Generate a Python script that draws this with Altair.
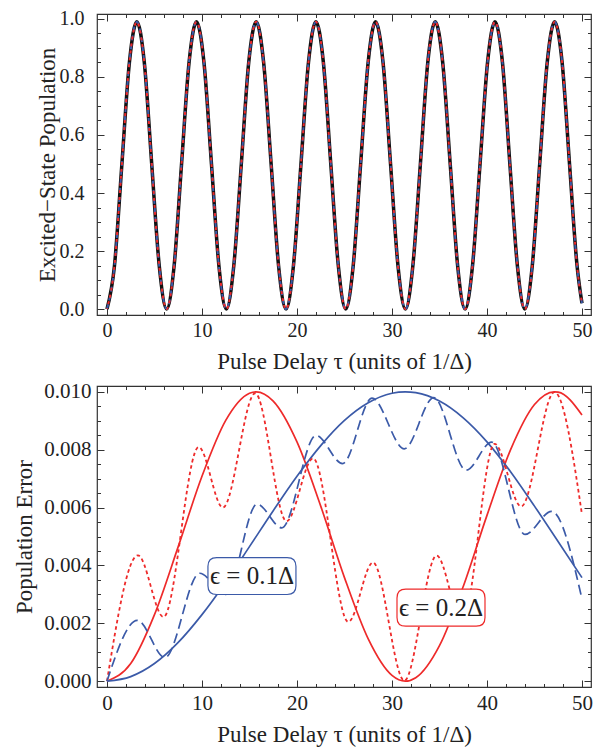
import altair as alt
import pandas as pd

# ---------------- data ----------------
# Top panel: excited-state population (exact and two approximations overlap)
tau_top = [0.00, 0.79, 1.57, 2.36, 3.14, 3.93, 4.71, 5.50, 6.28, 7.07, 7.85, 8.64,
           9.42, 10.21, 11.00, 11.78, 12.57, 13.35, 14.14, 14.92, 15.71, 16.49, 17.28,
           18.06, 18.85, 19.63, 20.42, 21.21, 21.99, 22.78, 23.56, 24.35, 25.13, 25.92,
           26.70, 27.49, 28.27, 29.06, 29.85, 30.63, 31.42, 32.20, 32.99, 33.77, 34.56,
           35.34, 36.13, 36.91, 37.70, 38.48, 39.27, 40.06, 40.84, 41.63, 42.41, 43.20,
           43.98, 44.77, 45.55, 46.34, 47.12, 47.91, 48.69, 49.48, 50.00]
pop_exact = [0.00, 0.15, 0.50, 0.85, 0.99, 0.85, 0.50, 0.15,
             0.00, 0.15, 0.50, 0.85, 0.99, 0.85, 0.50, 0.15,
             0.00, 0.15, 0.50, 0.85, 0.99, 0.85, 0.50, 0.15,
             0.00, 0.15, 0.50, 0.85, 0.99, 0.85, 0.50, 0.15,
             0.00, 0.15, 0.50, 0.85, 0.99, 0.85, 0.50, 0.15,
             0.00, 0.15, 0.50, 0.85, 0.99, 0.85, 0.50, 0.15,
             0.00, 0.15, 0.50, 0.85, 0.99, 0.85, 0.50, 0.15,
             0.00, 0.15, 0.50, 0.85, 0.99, 0.85, 0.50, 0.15,
             0.02]
pop_approx_01 = list(pop_exact)   # visually identical to the exact curve
pop_approx_02 = list(pop_exact)

# Bottom panel: population error
tau_blue_solid = [0, 2.5, 5, 7.5, 10, 12.5, 15, 17.5, 20, 22.5, 25, 27.5, 30, 31.4,
                  32.5, 35, 37.5, 40, 42.5, 45, 47.5, 50]
err_blue_solid = [0.0, 0.00016, 0.00061, 0.00134, 0.00230, 0.00342, 0.00465, 0.00589,
                  0.00708, 0.00814, 0.00901, 0.00962, 0.00995, 0.01000, 0.00997, 0.00968,
                  0.00910, 0.00827, 0.00723, 0.00605, 0.00482, 0.00358]

tau_red_solid = [0, 2.5, 5, 7.5, 10, 12.5, 15, 15.7, 17.5, 20, 22.5, 25, 27.5, 30, 31.4,
                 32.5, 35, 37.5, 40, 42.5, 45, 47.1, 47.5, 50]
err_red_solid = [0.0, 0.00061, 0.00230, 0.00465, 0.00708, 0.00901, 0.00995, 0.01000,
                 0.00968, 0.00827, 0.00605, 0.00358, 0.00146, 0.00020, 0.0, 0.00012,
                 0.00123, 0.00327, 0.00573, 0.00801, 0.00956, 0.01000, 0.00999, 0.00920]

tau_blue_dash = [0, 3.2, 6.1, 9.75, 12.5, 15.8, 18.4, 22.0, 24.8, 27.9, 31.3, 34.4,
                 37.8, 40.5, 44.0, 46.8, 50]
err_blue_dash = [0.0, 0.00210, 0.00082, 0.00373, 0.00300, 0.00612, 0.00530, 0.00849,
                 0.00752, 0.00978, 0.00803, 0.00980, 0.00729, 0.00826, 0.00507, 0.00587,
                 0.00284]

tau_red_dot = [0, 3.26, 5.95, 9.65, 12.2, 15.6, 18.9, 21.7, 25.4, 28.0, 31.3, 34.7,
               37.4, 40.8, 43.6, 47.1, 50]
err_red_dot = [0.0, 0.00435, 0.00222, 0.00809, 0.00600, 0.00995, 0.00553, 0.00770,
               0.00205, 0.00410, 0.00002, 0.00434, 0.00205, 0.00820, 0.00604, 0.00999,
               0.00576]

label_tau = [15.26, 35.16]
label_err = [0.003635, 0.00254]
label_text = ["ϵ = 0.1Δ", "ϵ = 0.2Δ"]
label_col = ["#3b5aa8", "#ee2a2a"]

# ticks
x_major = [0, 10, 20, 30, 40, 50]
x_minor = [2, 4, 6, 8, 12, 14, 16, 18, 22, 24, 26, 28, 32, 34, 36, 38, 42, 44, 46, 48]
y_top_major = [0.0, 0.2, 0.4, 0.6, 0.8, 1.0]
y_top_minor = [0.05, 0.10, 0.15, 0.25, 0.30, 0.35, 0.45, 0.50, 0.55, 0.65, 0.70, 0.75,
               0.85, 0.90, 0.95]
y_bot_major = [0.0, 0.002, 0.004, 0.006, 0.008, 0.010]
y_bot_minor = [0.0005, 0.0010, 0.0015, 0.0025, 0.0030, 0.0035, 0.0045, 0.0050, 0.0055,
               0.0065, 0.0070, 0.0075, 0.0085, 0.0090, 0.0095]

# ---------------- styling ----------------
FONT = "Liberation Serif"
INK = "#222222"
FRAME = "#333333"
RED = "#ee2a2a"
BLUE = "#3b5aa8"
W = 494
H = 301
X_DOM = [-1.05, 50.95]
Y_TOP_DOM = [-0.0204, 1.017]
Y_BOT_DOM = [-0.0002, 0.0102]
MAJ, MIN = 7, 3.5
XTITLE = "Pulse Delay τ  (units of 1/Δ)"
TFS = 23


def tick_axis(orient, offset, values, size):
    return alt.Axis(orient=orient, offset=offset, values=values, labels=False,
                    ticks=True, tickSize=size, tickColor=FRAME, tickWidth=1,
                    domain=False, grid=False)


def x_label_axis(fs):
    return alt.Axis(orient="bottom", values=x_major, format="d", labels=True,
                    labelFont=FONT, labelFontSize=fs, labelColor=INK, labelPadding=5,
                    ticks=False, tickSize=0, domain=False, grid=False,
                    titleFont=FONT, titleFontSize=TFS, titleFontWeight="normal",
                    titleColor=INK, titlePadding=10)


def y_label_axis(values, fmt, fs, pad, tpad):
    return alt.Axis(orient="left", values=values, format=fmt, labels=True,
                    labelFont=FONT, labelFontSize=fs, labelColor=INK, labelPadding=pad,
                    ticks=False, tickSize=0, domain=False, grid=False,
                    titleFont=FONT, titleFontSize=TFS, titleFontWeight="normal",
                    titleColor=INK, titlePadding=tpad)


def enc(base, xaxis, yaxis, ydom, xtitle=None, ytitle=None):
    return base.encode(
        x=alt.X("t:Q", scale=alt.Scale(domain=X_DOM, nice=False, zero=False),
                axis=xaxis, title=xtitle),
        y=alt.Y("v:Q", scale=alt.Scale(domain=ydom, nice=False, zero=False),
                axis=yaxis, title=ytitle),
    )


# ---------------- top panel ----------------
df_exact = pd.DataFrame({"t": tau_top, "v": pop_exact})
df_a1 = pd.DataFrame({"t": tau_top, "v": pop_approx_01})
df_a2 = pd.DataFrame({"t": tau_top, "v": pop_approx_02})

top_ax1 = enc(alt.Chart(df_exact).mark_line(strokeOpacity=0),
              tick_axis("bottom", -H, x_major, MAJ), tick_axis("left", -W, y_top_major, MAJ),
              Y_TOP_DOM)
top_ax2 = enc(alt.Chart(df_exact).mark_line(strokeOpacity=0),
              tick_axis("bottom", -H, x_minor, MIN), tick_axis("left", -W, y_top_minor, MIN),
              Y_TOP_DOM)
top_black = enc(alt.Chart(df_exact).mark_line(interpolate="monotone", color="#111111",
                                               strokeWidth=3.5),
                x_label_axis(20), y_label_axis(y_top_major, ".1f", 20, 13, 0),
                Y_TOP_DOM, XTITLE, "Excited−State Population")
top_blue = enc(alt.Chart(df_a1).mark_line(interpolate="monotone", color=BLUE,
                                          strokeWidth=2, strokeDash=[5, 4]),
               tick_axis("top", -H, x_major, MAJ), tick_axis("right", -W, y_top_major, MAJ),
               Y_TOP_DOM)
top_red = enc(alt.Chart(df_a2).mark_line(interpolate="monotone", color=RED,
                                         strokeWidth=2, strokeDash=[3, 4],
                                         strokeDashOffset=2),
              tick_axis("top", -H, x_minor, MIN), tick_axis("right", -W, y_top_minor, MIN),
              Y_TOP_DOM)

top = alt.layer(top_ax1, top_ax2, top_black, top_blue, top_red).resolve_axis(
    x="independent", y="independent").properties(width=W, height=H)

# ---------------- bottom panel ----------------
df_bs = pd.DataFrame({"t": tau_blue_solid, "v": err_blue_solid})
df_rs = pd.DataFrame({"t": tau_red_solid, "v": err_red_solid})
df_bd = pd.DataFrame({"t": tau_blue_dash, "v": err_blue_dash})
df_rd = pd.DataFrame({"t": tau_red_dot, "v": err_red_dot})
df_lab = pd.DataFrame({"t": label_tau, "v": label_err, "label": label_text, "c": label_col})

BOX = ("M -0.80,-0.42 L 0.80,-0.42 Q 1,-0.42 1,-0.22 L 1,0.22 Q 1,0.42 0.80,0.42 "
       "L -0.80,0.42 Q -1,0.42 -1,0.22 L -1,-0.22 Q -1,-0.42 -0.80,-0.42 Z")

bot_rs = enc(alt.Chart(df_rs).mark_line(interpolate="monotone", color=RED, strokeWidth=1.7),
             x_label_axis(21), y_label_axis(y_bot_major, ".3f", 21, 6, 7),
             Y_BOT_DOM, XTITLE, "Population Error")
bot_bs = enc(alt.Chart(df_bs).mark_line(interpolate="monotone", color=BLUE, strokeWidth=1.7),
             tick_axis("top", -H, x_major, MAJ), tick_axis("right", -W, y_bot_major, MAJ),
             Y_BOT_DOM)
bot_rd = enc(alt.Chart(df_rd).mark_line(interpolate="monotone", color=RED, strokeWidth=1.8,
                                        strokeDash=[3.5, 3]),
             tick_axis("top", -H, x_minor, MIN), tick_axis("right", -W, y_bot_minor, MIN),
             Y_BOT_DOM)
bot_bd = enc(alt.Chart(df_bd).mark_line(interpolate="monotone", color=BLUE, strokeWidth=1.7,
                                        strokeDash=[10, 5]),
             tick_axis("bottom", -H, x_major, MAJ), tick_axis("left", -W, y_bot_major, MAJ),
             Y_BOT_DOM)
bot_box = enc(alt.Chart(df_lab).mark_point(shape=BOX, size=7744, filled=True, fill="white",
                                           strokeWidth=1.2, opacity=1),
              tick_axis("bottom", -H, x_minor, MIN), tick_axis("left", -W, y_bot_minor, MIN),
              Y_BOT_DOM).encode(stroke=alt.Stroke("c:N", scale=None))
bot_txt = alt.Chart(df_lab).mark_text(font=FONT, fontSize=25, color=INK, align="center",
                                      baseline="middle").encode(
    x=alt.X("t:Q", scale=alt.Scale(domain=X_DOM, nice=False, zero=False), axis=None),
    y=alt.Y("v:Q", scale=alt.Scale(domain=Y_BOT_DOM, nice=False, zero=False), axis=None),
    text="label:N",
)

bottom = alt.layer(bot_rs, bot_bs, bot_rd, bot_bd, bot_box, bot_txt).resolve_axis(
    x="independent", y="independent").properties(width=W, height=H)

chart = alt.vconcat(top, bottom, spacing=6).properties(
    padding={"left": 5, "top": 0, "right": 5, "bottom": 0},
    background="white",
).configure_view(stroke=FRAME, strokeWidth=1.2)

chart.save("out.html", embed_options={"renderer": "svg", "actions": False})
